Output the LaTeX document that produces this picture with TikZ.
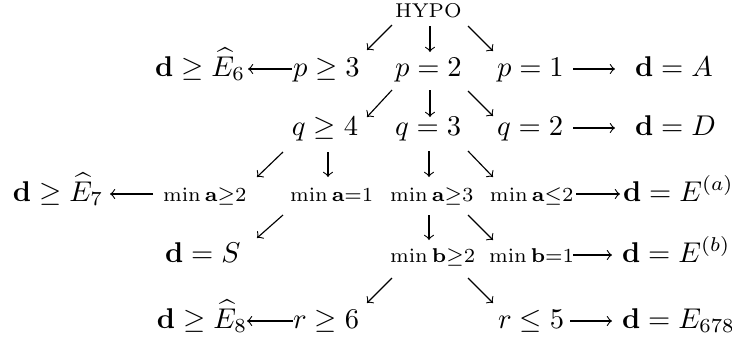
\documentclass[tikz,border=0pt]{standalone}
\begin{document}
\begin{tikzpicture}[x=0.35pt,y=-0.35pt,
  every node/.style={inner sep=0pt,outer sep=0pt,anchor=base west},
  arr/.style={-to,line width=0.4pt}]
\useasboundingbox (0,0) rectangle (732,339);
% nodes
\node (hypo) at (395,17) {$\scriptstyle\mathrm{HYPO}$};
\node (d6) at (155,76) {$\mathbf{d}\geq\widehat{E}_6$};
\node (p3) at (293,76) {$p\geq3$};
\node (p2) at (395,76) {$p=2$};
\node (p1) at (497,76) {$p=1$};
\node (dA) at (635,76) {$\mathbf{d}=A$};
\node (q4) at (292,135) {$q\geq4$};
\node (q3) at (395,135) {$q=3$};
\node (q2) at (497,135) {$q=2$};
\node (dD) at (635,135) {$\mathbf{d}=D$};
\node (d7) at (13,201) {$\mathbf{d}\geq\widehat{E}_7$};
\node (a2) at (163,201) {$\scriptstyle\min\mathbf{a}\geq2$};
\node (a1) at (290,201) {$\scriptstyle\min\mathbf{a}=1$};
\node (a3) at (390,201) {$\scriptstyle\min\mathbf{a}\geq3$};
\node (al2) at (490,201) {$\scriptstyle\min\mathbf{a}\leq2$};
\node (dEa) at (623,201) {$\mathbf{d}=E^{(a)}$};
\node (dS) at (165,262) {$\mathbf{d}=S$};
\node (b2) at (390,262) {$\scriptstyle\min\mathbf{b}\geq2$};
\node (b1) at (489,262) {$\scriptstyle\min\mathbf{b}=1$};
\node (dEb) at (622,262) {$\mathbf{d}=E^{(b)}$};
\node (d8) at (157,328) {$\mathbf{d}\geq\widehat{E}_8$};
\node (r6) at (293,328) {$r\geq6$};
\node (r5) at (498,328) {$r\leq5$};
\node (dE) at (622,328) {$\mathbf{d}=E_{678}$};
% diagonal and vertical connectors
\draw[arr] ([shift={(-3,8)}]hypo.base west) -- ([shift={(74,-26)}]p3.base west);
\draw[arr] ([shift={(35,9)}]hypo.base west) -- ([shift={(35,-24)}]p2.base west);
\draw[arr] ([shift={(73,9)}]hypo.base west) -- ([shift={(-4,-25)}]p1.base west);
\draw[arr] ([shift={(-3,14)}]p2.base west) -- ([shift={(75,-18)}]q4.base west);
\draw[arr] ([shift={(35,14)}]p2.base west) -- ([shift={(35,-18)}]q3.base west);
\draw[arr] ([shift={(73,15)}]p2.base west) -- ([shift={(-4,-19)}]q2.base west);
\draw[arr] ([shift={(-9,17)}]q4.base west) -- ([shift={(94,-24)}]a2.base west);
\draw[arr] ([shift={(36,17)}]q4.base west) -- ([shift={(38,-24)}]a1.base west);
\draw[arr] ([shift={(34,16)}]q3.base west) -- ([shift={(39,-24)}]a3.base west);
\draw[arr] ([shift={(73,16)}]q3.base west) -- ([shift={(3,-24)}]al2.base west);
\draw[arr] ([shift={(-7,14)}]a1.base west) -- ([shift={(92,-24)}]dS.base west);
\draw[arr] ([shift={(39,14)}]a3.base west) -- ([shift={(39,-22)}]b2.base west);
\draw[arr] ([shift={(78,14)}]a3.base west) -- ([shift={(4,-22)}]b1.base west);
\draw[arr] ([shift={(2,16)}]b2.base west) -- ([shift={(74,-25)}]r6.base west);
\draw[arr] ([shift={(78,16)}]b2.base west) -- ([shift={(-5,-25)}]r5.base west);
% horizontal connectors
\draw[arr] ([shift={(-1,-7)}]p3.base west) -- ([shift={(93,-7)}]d6.base west);
\draw[arr] ([shift={(76,-7)}]p1.base west) -- ([shift={(-20,-7)}]dA.base west);
\draw[arr] ([shift={(76,-7)}]q2.base west) -- ([shift={(-20,-7)}]dD.base west);
\draw[arr] ([shift={(-10,-7)}]a2.base west) -- ([shift={(97,-7)}]d7.base west);
\draw[arr] ([shift={(86,-7)}]al2.base west) -- ([shift={(-3,-7)}]dEa.base west);
\draw[arr] ([shift={(84,-7)}]b1.base west) -- ([shift={(-10,-7)}]dEb.base west);
\draw[arr] ([shift={(0,-7)}]r6.base west) -- ([shift={(90,-7)}]d8.base west);
\draw[arr] ([shift={(72,-7)}]r5.base west) -- ([shift={(-10,-7)}]dE.base west);
\end{tikzpicture}
\end{document}
